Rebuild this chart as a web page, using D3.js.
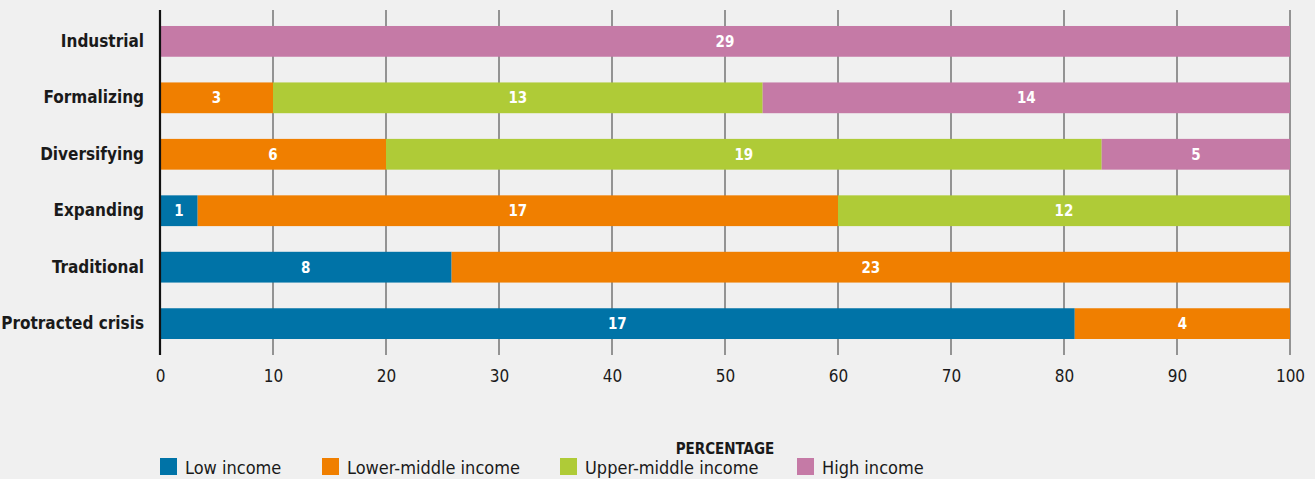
<!DOCTYPE html>
<html><head><meta charset="utf-8">
<script src="https://cdn.jsdelivr.net/npm/d3@7"></script>
<style>
body{margin:0;background:#f0f0f0;}
svg text{font-family:"DejaVu Sans Condensed","DejaVu Sans",sans-serif;font-stretch:condensed;}
</style></head><body>
<svg id="c" width="1315" height="479"></svg>
<script>
const categories = ["Industrial","Formalizing","Diversifying","Expanding","Traditional","Protracted crisis"];
const seriesNames = ["Low income","Lower-middle income","Upper-middle income","High income"];
const lowIncome = [0,0,0,1,8,17];
const lowerMiddle = [0,3,6,17,23,4];
const upperMiddle = [0,13,19,12,0,0];
const highIncome = [29,14,5,0,0,0];
const xTicks = [0,10,20,30,40,50,60,70,80,90,100];
const colors = ["#0073a7","#f07f00","#afcb37","#c57aa6"];

const series = [lowIncome, lowerMiddle, upperMiddle, highIncome];
const rows = categories.map((c,i)=>{
  const o={cat:c}; seriesNames.forEach((s,j)=>o[s]=series[j][i]);
  o.total=series.reduce((a,s)=>a+s[i],0); return o;
});
const stacked = d3.stack().keys(seriesNames).value((d,k)=>d[k]/d.total*100)(rows);

const svg=d3.select("#c");
const left=160,right=1290;
const x=d3.scaleLinear().domain([0,100]).range([left,right]);
const y=d3.scaleBand().domain(categories).range([13,352]).paddingInner(0.455).paddingOuter(0.23);

svg.append("g").selectAll("line").data(xTicks.filter(t=>t>0)).join("line")
  .attr("x1",d=>x(d)).attr("x2",d=>x(d)).attr("y1",10).attr("y2",355)
  .attr("stroke","#555").attr("stroke-width",1.2);

const g=svg.append("g");
stacked.forEach((s,j)=>{
  g.append("g").selectAll("rect").data(s.filter(d=>d[1]-d[0]>0)).join("rect")
    .attr("x",d=>x(d[0])).attr("width",d=>x(d[1])-x(d[0]))
    .attr("y",d=>y(d.data.cat)).attr("height",y.bandwidth())
    .attr("fill",colors[j]);
  g.append("g").selectAll("text").data(s.filter(d=>d[1]-d[0]>0)).join("text")
    .attr("x",d=>(x(d[0])+x(d[1]))/2).attr("y",d=>y(d.data.cat)+y.bandwidth()/2)
    .attr("dy","0.37em").attr("text-anchor","middle")
    .attr("fill","#fff").attr("font-weight","bold").attr("font-size",15)
    .text(d=>d.data[seriesNames[j]]);
});

svg.append("line").attr("x1",x(0)).attr("x2",x(0)).attr("y1",10).attr("y2",355)
  .attr("stroke","#111").attr("stroke-width",2.2);

const ya=svg.append("g").attr("transform",`translate(${left},0)`)
  .call(d3.axisLeft(y).tickSize(0).tickPadding(16));
ya.select(".domain").remove();
ya.attr("font-family",null);
ya.selectAll("text").attr("font-size",17).attr("font-weight","bold").attr("fill","#1a1a1a");

const xa=svg.append("g").attr("transform","translate(0,355)")
  .call(d3.axisBottom(x).tickValues(xTicks).tickSize(0).tickPadding(15));
xa.select(".domain").remove();
xa.attr("font-family",null);
xa.selectAll("text").attr("font-size",17).attr("fill","#1a1a1a");

svg.append("text").attr("x",(left+right)/2).attr("y",454).attr("text-anchor","middle")
  .attr("font-size",15).attr("font-weight","bold").attr("fill","#1a1a1a").text("PERCENTAGE");

const legX=[160,322,560,797];
const lg=svg.append("g").selectAll("g").data(seriesNames).join("g")
  .attr("transform",(d,i)=>`translate(${legX[i]},458)`);
lg.append("rect").attr("width",17).attr("height",17).attr("fill",(d,i)=>colors[i]);
lg.append("text").attr("x",25).attr("y",9).attr("dy","0.4em").attr("font-size",18)
  .attr("fill","#1a1a1a").text(d=>d);
</script>
</body></html>
